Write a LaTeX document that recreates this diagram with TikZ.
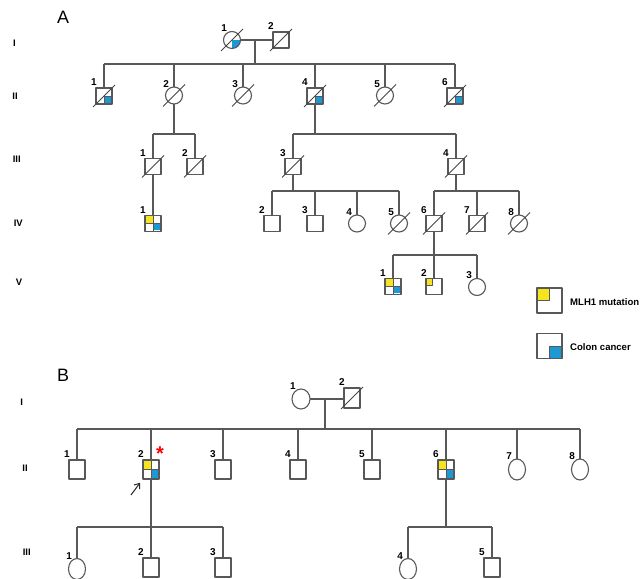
\documentclass[tikz,border=0pt]{standalone}
\usepackage{fontspec}
\setmainfont{Liberation Sans}
\usetikzlibrary{shapes.geometric}
\usetikzlibrary{arrows.meta}
\usetikzlibrary{positioning}
\definecolor{pedgray}{RGB}{88,88,88}
\definecolor{mutyellow}{RGB}{246,228,30}
\definecolor{crcblue}{RGB}{28,152,212}
\tikzset{ped/.style={draw=pedgray, line width=1.1bp, fill=white, inner sep=0pt},
  male/.style={ped, rectangle, minimum width=16bp, minimum height=16bp},
  female/.style={ped, ellipse, minimum width=17bp, minimum height=17bp},
  maleB/.style={ped, rectangle, minimum width=16bp, minimum height=19bp},
  femaleB/.style={ped, ellipse, minimum width=17bp, minimum height=21bp},
  num/.style={font=\fontsize{10}{11}\selectfont\bfseries, anchor=south east, inner sep=0pt, xshift=1.5bp, yshift=1.5bp},
  gen/.style={font=\fontsize{9.5}{10}\selectfont\bfseries, inner sep=0pt},
  panel/.style={font=\fontsize{18}{20}\selectfont, inner sep=0pt},
  key/.style={font=\fontsize{9.6}{10}\selectfont\bfseries, anchor=west, inner sep=0pt},
  line/.style={draw=pedgray, line width=1.1bp},
  slash/.style={draw=pedgray!80!black, line width=1bp},
  crc/.style={path picture={\filldraw[fill=crcblue, draw=pedgray, line width=0.6bp] (path picture bounding box.center) rectangle (path picture bounding box.south east);}},
  crcf/.style={path picture={\fill[crcblue] (path picture bounding box.center) rectangle (path picture bounding box.south east);}},
  carrier/.style={path picture={\filldraw[fill=mutyellow, draw=pedgray, line width=0.6bp] (path picture bounding box.north west) rectangle +(6.5bp,-6.5bp);}},
  both/.style={path picture={
      \fill[mutyellow] ([shift={(1bp,-1bp)}]path picture bounding box.north west) rectangle ([shift={(-0.5bp,0.5bp)}]path picture bounding box.center);
      \fill[crcblue] ([shift={(0.5bp,-0.5bp)}]path picture bounding box.center) rectangle ([shift={(-1bp,1bp)}]path picture bounding box.south east);
      \draw[pedgray, line width=0.6bp] (path picture bounding box.north) -- (path picture bounding box.south)
        (path picture bounding box.west) -- (path picture bounding box.east);}},
  keybox/.style={draw=pedgray, line width=1.6bp, fill=white, rectangle, minimum size=25bp, inner sep=0pt},
  keymut/.style={keybox, path picture={\filldraw[fill=mutyellow, draw=pedgray, line width=0.8bp] (path picture bounding box.north west) rectangle (path picture bounding box.center);}},
  keycrc/.style={keybox, path picture={\filldraw[fill=crcblue, draw=pedgray, line width=0.8bp] (path picture bounding box.center) rectangle (path picture bounding box.south east);}}
}
\begin{document}
\begin{tikzpicture}[>=to,line join=bevel]
\useasboundingbox (0,0) rectangle (640bp,579bp);
\clip (0,0) rectangle (640bp,579bp);
%% panel A
\node (panA) at (63.0bp,562.0bp) [panel] {A};
\node (gA1) at (14.5bp,536.0bp) [gen] {I};
\node (gA2) at (15.0bp,483.0bp) [gen] {II};
\node (gA3) at (16.7bp,420.0bp) [gen] {III};
\node (gA4) at (18.3bp,356.0bp) [gen] {IV};
\node (gA5) at (19.0bp,297.0bp) [gen] {V};
%
\coordinate (a1_m) at (255.0bp,539.0bp);
\coordinate (a1_s) at (255.0bp,515.0bp);
\draw [line] (232.0bp,539.0bp) -- (281.0bp,539.0bp);
\draw [line] (a1_m) -- (a1_s);
\draw [line] (104.0bp,515.0bp) -- (455.0bp,515.0bp);
\foreach \x in {104,174,243,315,385,455}
  \draw [line] (\x bp,515.0bp) -- (\x bp,483.0bp);
\draw [line] (174.0bp,483.0bp) -- (174.0bp,445.0bp);
\draw [line] (153.0bp,445.0bp) -- (195.0bp,445.0bp);
\draw [line] (153.0bp,445.0bp) -- (153.0bp,412.5bp);
\draw [line] (195.0bp,445.0bp) -- (195.0bp,412.5bp);
\draw [line] (315.0bp,483.0bp) -- (315.0bp,445.0bp);
\draw [line] (293.0bp,445.0bp) -- (456.0bp,445.0bp);
\draw [line] (293.0bp,445.0bp) -- (293.0bp,412.5bp);
\draw [line] (456.0bp,445.0bp) -- (456.0bp,412.5bp);
\draw [line] (153.0bp,412.5bp) -- (153.0bp,355.5bp);
\draw [line] (293.0bp,412.5bp) -- (293.0bp,388.0bp);
\draw [line] (272.0bp,388.0bp) -- (399.0bp,388.0bp);
\foreach \x in {272,315,357,399}
  \draw [line] (\x bp,388.0bp) -- (\x bp,355.5bp);
\draw [line] (456.0bp,412.5bp) -- (456.0bp,388.0bp);
\draw [line] (434.0bp,388.0bp) -- (519.0bp,388.0bp);
\foreach \x in {434,477,519}
  \draw [line] (\x bp,388.0bp) -- (\x bp,355.5bp);
\draw [line] (434.0bp,355.5bp) -- (434.0bp,324.0bp);
\draw [line] (393.0bp,324.0bp) -- (477.0bp,324.0bp);
\foreach \x in {393,434,477}
  \draw [line] (\x bp,324.0bp) -- (\x bp,292.5bp);
%
\node (a1_1) at (232.0bp,539.0bp) [female,crcf,label={[num]north west:1}] {};
\node (a1_2) at (281.0bp,539.0bp) [male,label={[num]north west:2}] {};
\node (a2_1) at (104.0bp,483.0bp) [male,crc,label={[num]north west:1}] {};
\node (a2_2) at (174.0bp,483.5bp) [female,label={[num]north west:2}] {};
\node (a2_3) at (243.0bp,483.5bp) [female,label={[num]north west:3}] {};
\node (a2_4) at (315.0bp,483.0bp) [male,crc,label={[num]north west:4}] {};
\node (a2_5) at (385.0bp,483.5bp) [female,label={[num]north west:5}] {};
\node (a2_6) at (455.0bp,483.0bp) [male,crc,label={[num]north west:6}] {};
\node (a3_1) at (153.0bp,412.5bp) [male,label={[num]north west:1}] {};
\node (a3_2) at (195.0bp,412.5bp) [male,label={[num]north west:2}] {};
\node (a3_3) at (293.0bp,412.5bp) [male,label={[num]north west:3}] {};
\node (a3_4) at (456.0bp,412.5bp) [male,label={[num]north west:4}] {};
\node (a4_1) at (153.0bp,355.5bp) [male,both,label={[num]north west:1}] {};
\node (a4_2) at (272.0bp,355.5bp) [male,label={[num]north west:2}] {};
\node (a4_3) at (315.0bp,355.5bp) [male,label={[num]north west:3}] {};
\node (a4_4) at (357.0bp,355.5bp) [female,label={[num]north west:4}] {};
\node (a4_5) at (399.0bp,355.5bp) [female,label={[num]north west:5}] {};
\node (a4_6) at (434.0bp,355.5bp) [male,label={[num]north west:6}] {};
\node (a4_7) at (477.0bp,355.5bp) [male,label={[num]north west:7}] {};
\node (a4_8) at (519.0bp,355.5bp) [female,label={[num]north west:8}] {};
\node (a5_1) at (393.0bp,292.5bp) [male,both,label={[num]north west:1}] {};
\node (a5_2) at (434.0bp,292.5bp) [male,carrier,label={[num]north west:2}] {};
\node (a5_3) at (477.0bp,292.0bp) [female,label={[num]north west:3}] {};
% deceased
\foreach \n in {a1_1,a1_2,a2_1,a2_2,a2_3,a2_4,a2_5,a2_6,a3_1,a3_2,a3_3,a3_4,a4_5,a4_6,a4_7,a4_8}
  \draw [slash] (\n.center) ++(-11bp,-11bp) -- ++(22bp,22bp);
% key
\node (keyA) at (549.5bp,278.5bp) [keymut] {};
\node (keyAt) at (570.0bp,277.0bp) [key] {MLH1 mutation};
\node (keyB) at (549.5bp,233.0bp) [keycrc] {};
\node (keyBt) at (570.0bp,232.0bp) [key] {Colon cancer};
%% panel B
\node (panB) at (63.0bp,204.0bp) [panel] {B};
\node (gB1) at (21.7bp,176.3bp) [gen] {I};
\node (gB2) at (25.0bp,110.7bp) [gen] {II};
\node (gB3) at (26.7bp,26.3bp) [gen] {III};
%
\coordinate (b1_m) at (325.0bp,180.0bp);
\coordinate (b1_s) at (325.0bp,150.0bp);
\draw [line] (301.0bp,180.0bp) -- (352.0bp,180.0bp);
\draw [line] (b1_m) -- (b1_s);
\draw [line] (77.0bp,150.0bp) -- (580.0bp,150.0bp);
\foreach \x in {77,151,223,298,372,446,517,580}
  \draw [line] (\x bp,150.0bp) -- (\x bp,109.5bp);
\draw [line] (151.0bp,109.5bp) -- (151.0bp,52.0bp);
\draw [line] (77.0bp,52.0bp) -- (223.0bp,52.0bp);
\foreach \x in {77,151,223}
  \draw [line] (\x bp,52.0bp) -- (\x bp,11.0bp);
\draw [line] (446.0bp,109.5bp) -- (446.0bp,52.0bp);
\draw [line] (408.0bp,52.0bp) -- (492.0bp,52.0bp);
\foreach \x in {408,492}
  \draw [line] (\x bp,52.0bp) -- (\x bp,11.0bp);
%
\node (b1_1) at (301.0bp,180.0bp) [femaleB,minimum width=18bp,minimum height=20bp,label={[num]north west:1}] {};
\node (b1_2) at (352.0bp,181.0bp) [maleB,minimum height=20bp,label={[num]north west:2}] {};
\node (b2_1) at (77.0bp,109.5bp) [maleB,label={[num]north west:1}] {};
\node (b2_2) at (151.0bp,109.5bp) [maleB,both,label={[num]north west:2}] {};
\node (b2_3) at (223.0bp,109.5bp) [maleB,label={[num]north west:3}] {};
\node (b2_4) at (298.0bp,109.5bp) [maleB,label={[num]north west:4}] {};
\node (b2_5) at (372.0bp,109.5bp) [maleB,label={[num]north west:5}] {};
\node (b2_6) at (446.0bp,109.5bp) [maleB,both,label={[num]north west:6}] {};
\node (b2_7) at (517.0bp,109.5bp) [femaleB,label={[num]north west:7}] {};
\node (b2_8) at (580.0bp,109.5bp) [femaleB,label={[num]north west:8}] {};
\node (b3_1) at (77.0bp,10.0bp) [femaleB,label={[num]north west:1}] {};
\node (b3_2) at (151.0bp,11.5bp) [maleB,label={[num]north west:2}] {};
\node (b3_3) at (223.0bp,11.5bp) [maleB,label={[num]north west:3}] {};
\node (b3_4) at (408.0bp,10.0bp) [femaleB,label={[num]north west:4}] {};
\node (b3_5) at (492.0bp,11.5bp) [maleB,label={[num]north west:5}] {};
\draw [slash] (b1_2.center) ++(-11bp,-11bp) -- ++(22bp,22bp);
% proband
\node (ast) at (160.0bp,125.5bp) [inner sep=0pt,font=\fontsize{20}{20}\selectfont\bfseries,text=red] {*};
\coordinate (prb) at (131.0bp,84.0bp);
\draw [-{Straight Barb[length=4.5bp,width=7bp]},draw=black!85,line width=1bp,shorten >=4bp] (prb) -- (b2_2.south west);
%
\end{tikzpicture}
\end{document}
